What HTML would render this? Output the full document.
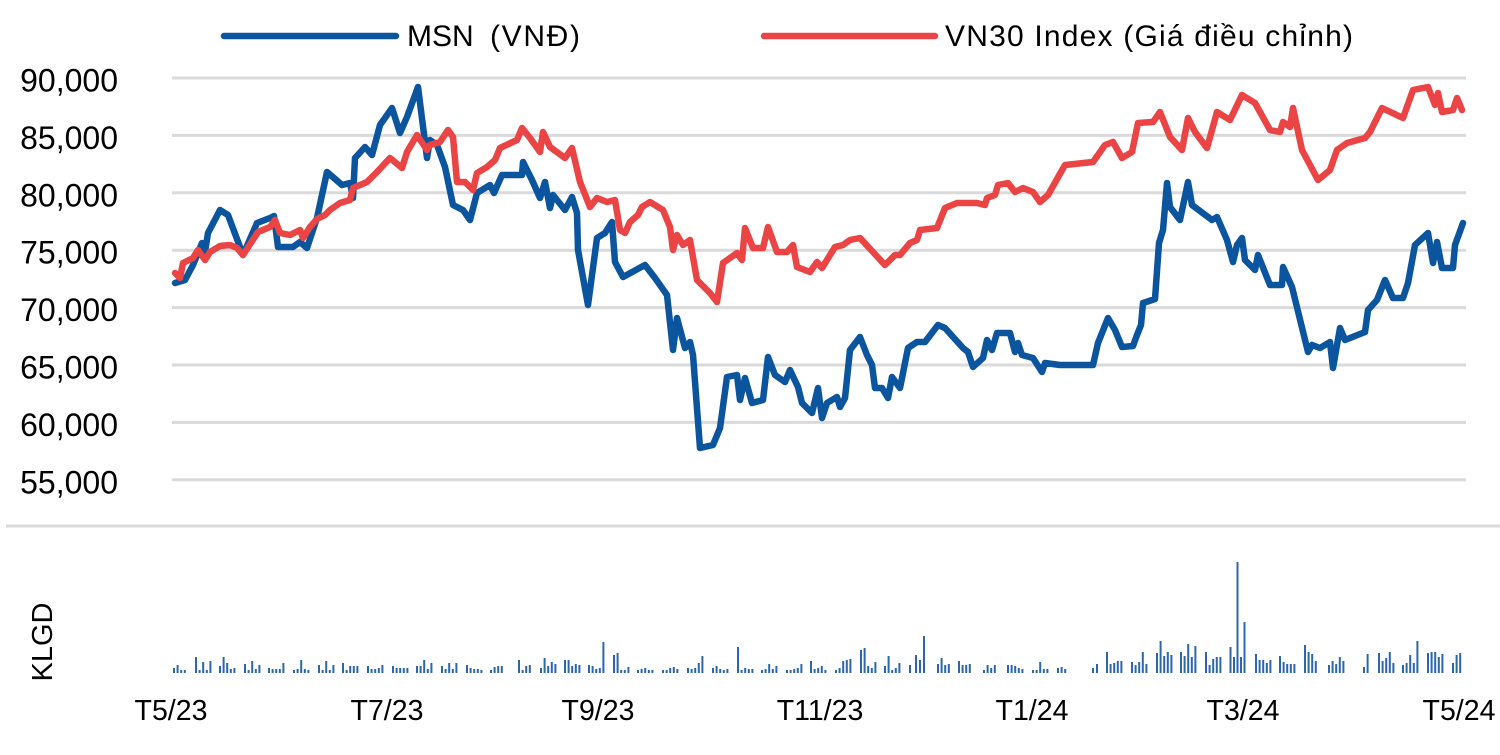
<!DOCTYPE html>
<html>
<head>
<meta charset="utf-8">
<style>
html,body{margin:0;padding:0;background:#fff;}
svg{display:block;}
text{font-family:"Liberation Sans",Arial,sans-serif;fill:#000;}
</style>
</head>
<body>
<svg width="1500" height="755" viewBox="0 0 1500 755" xmlns="http://www.w3.org/2000/svg">
<rect width="1500" height="755" fill="#fff"/>
<!-- legend -->
<line x1="224" y1="36" x2="396" y2="36" stroke="#0b549e" stroke-width="6.5" stroke-linecap="round"/>
<text x="407" y="46" font-size="30">MSN</text>
<text x="490" y="46" font-size="30" textLength="90" lengthAdjust="spacing">(VNĐ)</text>
<line x1="764" y1="36" x2="935" y2="36" stroke="#ea4444" stroke-width="6.5" stroke-linecap="round"/>
<text x="945" y="46" font-size="30" textLength="408" lengthAdjust="spacing">VN30 Index (Giá điều chỉnh)</text>
<!-- gridlines -->
<g stroke="#dadada" stroke-width="3">
<line x1="172" y1="78" x2="1466" y2="78"/>
<line x1="172" y1="135.4" x2="1466" y2="135.4"/>
<line x1="172" y1="192.8" x2="1466" y2="192.8"/>
<line x1="172" y1="250.2" x2="1466" y2="250.2"/>
<line x1="172" y1="307.6" x2="1466" y2="307.6"/>
<line x1="172" y1="365" x2="1466" y2="365"/>
<line x1="172" y1="422.4" x2="1466" y2="422.4"/>
<line x1="172" y1="479.8" x2="1466" y2="479.8"/>
<line x1="6" y1="526" x2="1500" y2="526"/>
</g>
<!-- y labels -->
<g font-size="32" text-anchor="end">
<text x="118" y="91.5">90,000</text>
<text x="118" y="148.9">85,000</text>
<text x="118" y="206.3">80,000</text>
<text x="118" y="263.7">75,000</text>
<text x="118" y="321.1">70,000</text>
<text x="118" y="378.5">65,000</text>
<text x="118" y="435.9">60,000</text>
<text x="118" y="493.3">55,000</text>
</g>
<!-- x labels -->
<g font-size="28.5" text-anchor="middle">
<text x="171" y="720">T5/23</text>
<text x="387" y="720">T7/23</text>
<text x="598" y="720">T9/23</text>
<text x="820" y="720">T11/23</text>
<text x="1032" y="720">T1/24</text>
<text x="1243" y="720">T3/24</text>
<text x="1459" y="720">T5/24</text>
</g>
<text font-size="29" text-anchor="middle" transform="translate(52,642) rotate(-90)">KLGD</text>
<!-- volume bars -->
<path stroke="#2c67ab" stroke-width="2" fill="none" d="
M174 673v-5M177.6 673v-8M181.2 673v-3M184.8 673v-3
M196 673v-16M199.6 673v-3M203.2 673v-11M206.8 673v-3M210.4 673v-12
M220 673v-7M223.6 673v-16M227.2 673v-10M230.8 673v-4M234.4 673v-5
M245 673v-9M248.6 673v-3M252.2 673v-12M255.8 673v-4M259.4 673v-8
M269 673v-5M272.6 673v-4M276.2 673v-4M279.8 673v-4M283.4 673v-10
M294 673v-3M297.6 673v-4M301.2 673v-13M304.8 673v-4M308.4 673v-3
M319 673v-8M322.6 673v-3M326.2 673v-12M329.8 673v-3M333.4 673v-8
M343 673v-10M346.6 673v-3M350.2 673v-7M353.8 673v-7M357.4 673v-7
M368 673v-7M371.6 673v-4M375.2 673v-4M378.8 673v-5M382.4 673v-8
M393 673v-7M396.6 673v-5M400.2 673v-5M403.8 673v-5M407.4 673v-5
M417 673v-7M420.6 673v-7M424.2 673v-13M427.8 673v-4M431.4 673v-10
M442 673v-7M445.6 673v-4M449.2 673v-10M452.8 673v-4M456.4 673v-10
M467 673v-8M470.6 673v-5M474.2 673v-4M477.8 673v-4M481.4 673v-3
M491 673v-3M494.6 673v-6M498.2 673v-7M501.8 673v-7
M519 673v-13M522.6 673v-3M526.2 673v-7M529.8 673v-8
M541 673v-5M544.6 673v-15M548.2 673v-7M551.8 673v-11M555.4 673v-9
M565 673v-13M568.6 673v-13M572.2 673v-7M575.8 673v-9M579.4 673v-8
M589 673v-8M592.6 673v-7M596.2 673v-4M599.8 673v-5M603.4 673v-31
M614 673v-18M617.6 673v-20M621.2 673v-3M624.8 673v-3M628.4 673v-6
M638 673v-3M641.6 673v-4M645.2 673v-5M648.8 673v-3M652.4 673v-3
M663 673v-3M666.6 673v-3M670.2 673v-5M673.8 673v-6M677.4 673v-4
M688 673v-5M691.6 673v-4M695.2 673v-5M698.8 673v-10M702.4 673v-17
M713 673v-5M716.6 673v-7M720.2 673v-4M723.8 673v-3M727.4 673v-4
M738 673v-26M741.6 673v-3M745.2 673v-5M748.8 673v-4M752.4 673v-4
M762 673v-3M765.6 673v-4M769.2 673v-9M772.8 673v-4M776.4 673v-7
M787 673v-3M790.6 673v-3M794.2 673v-4M797.8 673v-5M801.4 673v-9
M811 673v-12M814.6 673v-4M818.2 673v-5M821.8 673v-7M825.4 673v-3
M836 673v-3M839.6 673v-5M843.2 673v-12M846.8 673v-13M850.4 673v-14
M861 673v-23M864.6 673v-25M868.2 673v-7M871.8 673v-5M875.4 673v-11
M885 673v-7M888.6 673v-17M892.2 673v-3M895.8 673v-5M899.4 673v-10
M910 673v-8M916 673v-18M920 673v-13M924 673v-37
M938 673v-9M941.6 673v-15M945.2 673v-8M948.8 673v-9
M959 673v-12M962.6 673v-8M966.2 673v-8M969.8 673v-9
M984 673v-3M987.6 673v-8M991.2 673v-5M994.8 673v-8
M1008 673v-8M1011.6 673v-8M1015.2 673v-7M1018.8 673v-5M1022.4 673v-4
M1033 673v-3M1036.6 673v-3M1040.2 673v-11M1043.8 673v-4M1047.4 673v-4
M1058 673v-5M1061.6 673v-6M1065.2 673v-4
M1093 673v-5M1097 673v-9
M1107 673v-21M1110.6 673v-9M1114.2 673v-10M1117.8 673v-12M1121.4 673v-12
M1132 673v-11M1135.6 673v-8M1139.2 673v-11M1142.8 673v-21M1146.4 673v-9
M1157 673v-20M1160.6 673v-32M1164.2 673v-17M1167.8 673v-21M1171.4 673v-18
M1181 673v-21M1184.6 673v-17M1188.2 673v-29M1191.8 673v-16M1195.4 673v-27
M1206 673v-21M1209.6 673v-8M1213.2 673v-14M1216.8 673v-16M1220.4 673v-16
M1230.5 673v-26M1234 673v-16M1237.5 673v-111M1241 673v-16M1244.5 673v-51
M1256 673v-19M1259.6 673v-13M1263.2 673v-13M1266.8 673v-10M1270.4 673v-13
M1280 673v-17M1283.6 673v-11M1287.2 673v-9M1290.8 673v-9M1294.4 673v-9
M1305 673v-28M1308.6 673v-21M1312.2 673v-19M1315.8 673v-12
M1329 673v-8M1332.6 673v-12M1336.2 673v-9M1339.8 673v-16M1343.4 673v-12
M1364 673v-6M1367.6 673v-19
M1379 673v-20M1382.6 673v-12M1386.2 673v-15M1389.8 673v-21M1393.4 673v-10
M1403 673v-8M1406.6 673v-10M1410.2 673v-18M1413.8 673v-10M1417.4 673v-32
M1428 673v-20M1431.6 673v-21M1435.2 673v-21M1438.8 673v-16M1442.4 673v-19
M1453 673v-10M1456.6 673v-18M1460.2 673v-20
"/>
<!-- MSN series -->
<polyline fill="none" stroke="#0b549e" stroke-width="6.5" stroke-linejoin="round" stroke-linecap="round" points="
175,283 185,280 193,265 202,243 205,252 208,233 220,210 228,215 243,255 257,223 270,218 274,216 278,247 293,247 300,242 307,248 317,218 327,172 342,185 350,183 353,198 355,158 365,147 372,155 380,125 392,108 400,133 407,117 418,87 427,158 430,140 437,145 445,167 453,205 463,210 470,220 477,193 490,185 494,193 502,175 522,175 523,162 532,180 540,198 545,182 550,208 553,195 565,210 572,197 577,213 578,250 588,305 597,238 605,233 612,222 615,262 623,277 645,265 655,278 667,295 673,350 677,318 685,348 690,342 693,355 700,448 713,445 720,428 727,377 737,375 740,400 745,378 752,403 763,400 768,357 775,375 785,382 790,370 798,387 802,403 812,413 818,388 822,418 827,403 837,397 840,407 845,398 850,350 860,337 867,355 872,365 875,388 882,388 888,398 892,377 900,388 908,348 917,342 925,342 938,325 945,328 963,348 968,352 973,367 983,358 987,340 992,350 997,333 1010,333 1015,352 1018,343 1022,355 1033,358 1042,372 1045,363 1060,365 1093,365 1098,343 1108,318 1115,330 1122,347 1133,346 1137,335 1141,325 1143,303 1155,299 1159,243 1163,230 1167,183 1170,207 1180,220 1188,182 1192,205 1212,220 1217,217 1227,240 1233,262 1237,245 1242,238 1245,260 1255,270 1258,255 1270,285 1282,285 1283,267 1292,287 1308,352 1312,345 1320,348 1330,342 1333,368 1340,328 1345,340 1365,332 1368,310 1377,300 1385,280 1393,298 1403,298 1408,283 1415,245 1428,233 1433,263 1437,242 1442,268 1453,268 1455,245 1463,223"/>
<!-- VN30 series -->
<polyline fill="none" stroke="#ea4444" stroke-width="6.5" stroke-linejoin="round" stroke-linecap="round" points="
175,273 180,278 183,263 193,258 198,250 205,260 210,252 220,246 230,245 237,248 243,255 258,232 270,227 275,220 280,233 290,235 300,230 303,238 310,227 317,219 325,215 330,210 340,203 350,200 353,188 367,182 377,172 390,158 402,168 407,152 417,135 427,150 430,145 440,142 448,130 453,137 457,182 465,182 473,190 477,173 487,167 495,160 500,148 517,140 522,128 530,138 540,152 543,132 550,147 565,158 572,148 580,182 590,207 597,198 607,202 615,200 620,230 625,233 630,222 638,215 642,207 650,202 663,210 670,227 673,250 677,235 683,245 690,240 697,280 710,293 717,302 723,263 737,253 742,260 745,228 753,248 763,248 768,227 777,252 787,252 793,245 797,267 810,272 817,262 822,268 835,247 843,245 850,240 860,238 885,265 895,255 900,255 910,243 917,240 920,230 937,228 945,208 957,203 977,203 985,205 987,198 995,195 998,185 1008,183 1015,192 1023,188 1033,192 1040,202 1048,195 1065,165 1093,162 1105,145 1113,142 1122,158 1132,152 1138,123 1153,122 1160,112 1170,137 1182,150 1188,118 1195,132 1207,148 1217,112 1230,120 1242,95 1255,103 1270,130 1280,132 1283,122 1290,127 1293,108 1302,150 1318,180 1330,170 1337,150 1347,143 1365,138 1370,132 1382,108 1403,118 1413,90 1428,87 1435,105 1438,93 1442,112 1453,110 1457,98 1462,110"/>
</svg>
</body>
</html>
